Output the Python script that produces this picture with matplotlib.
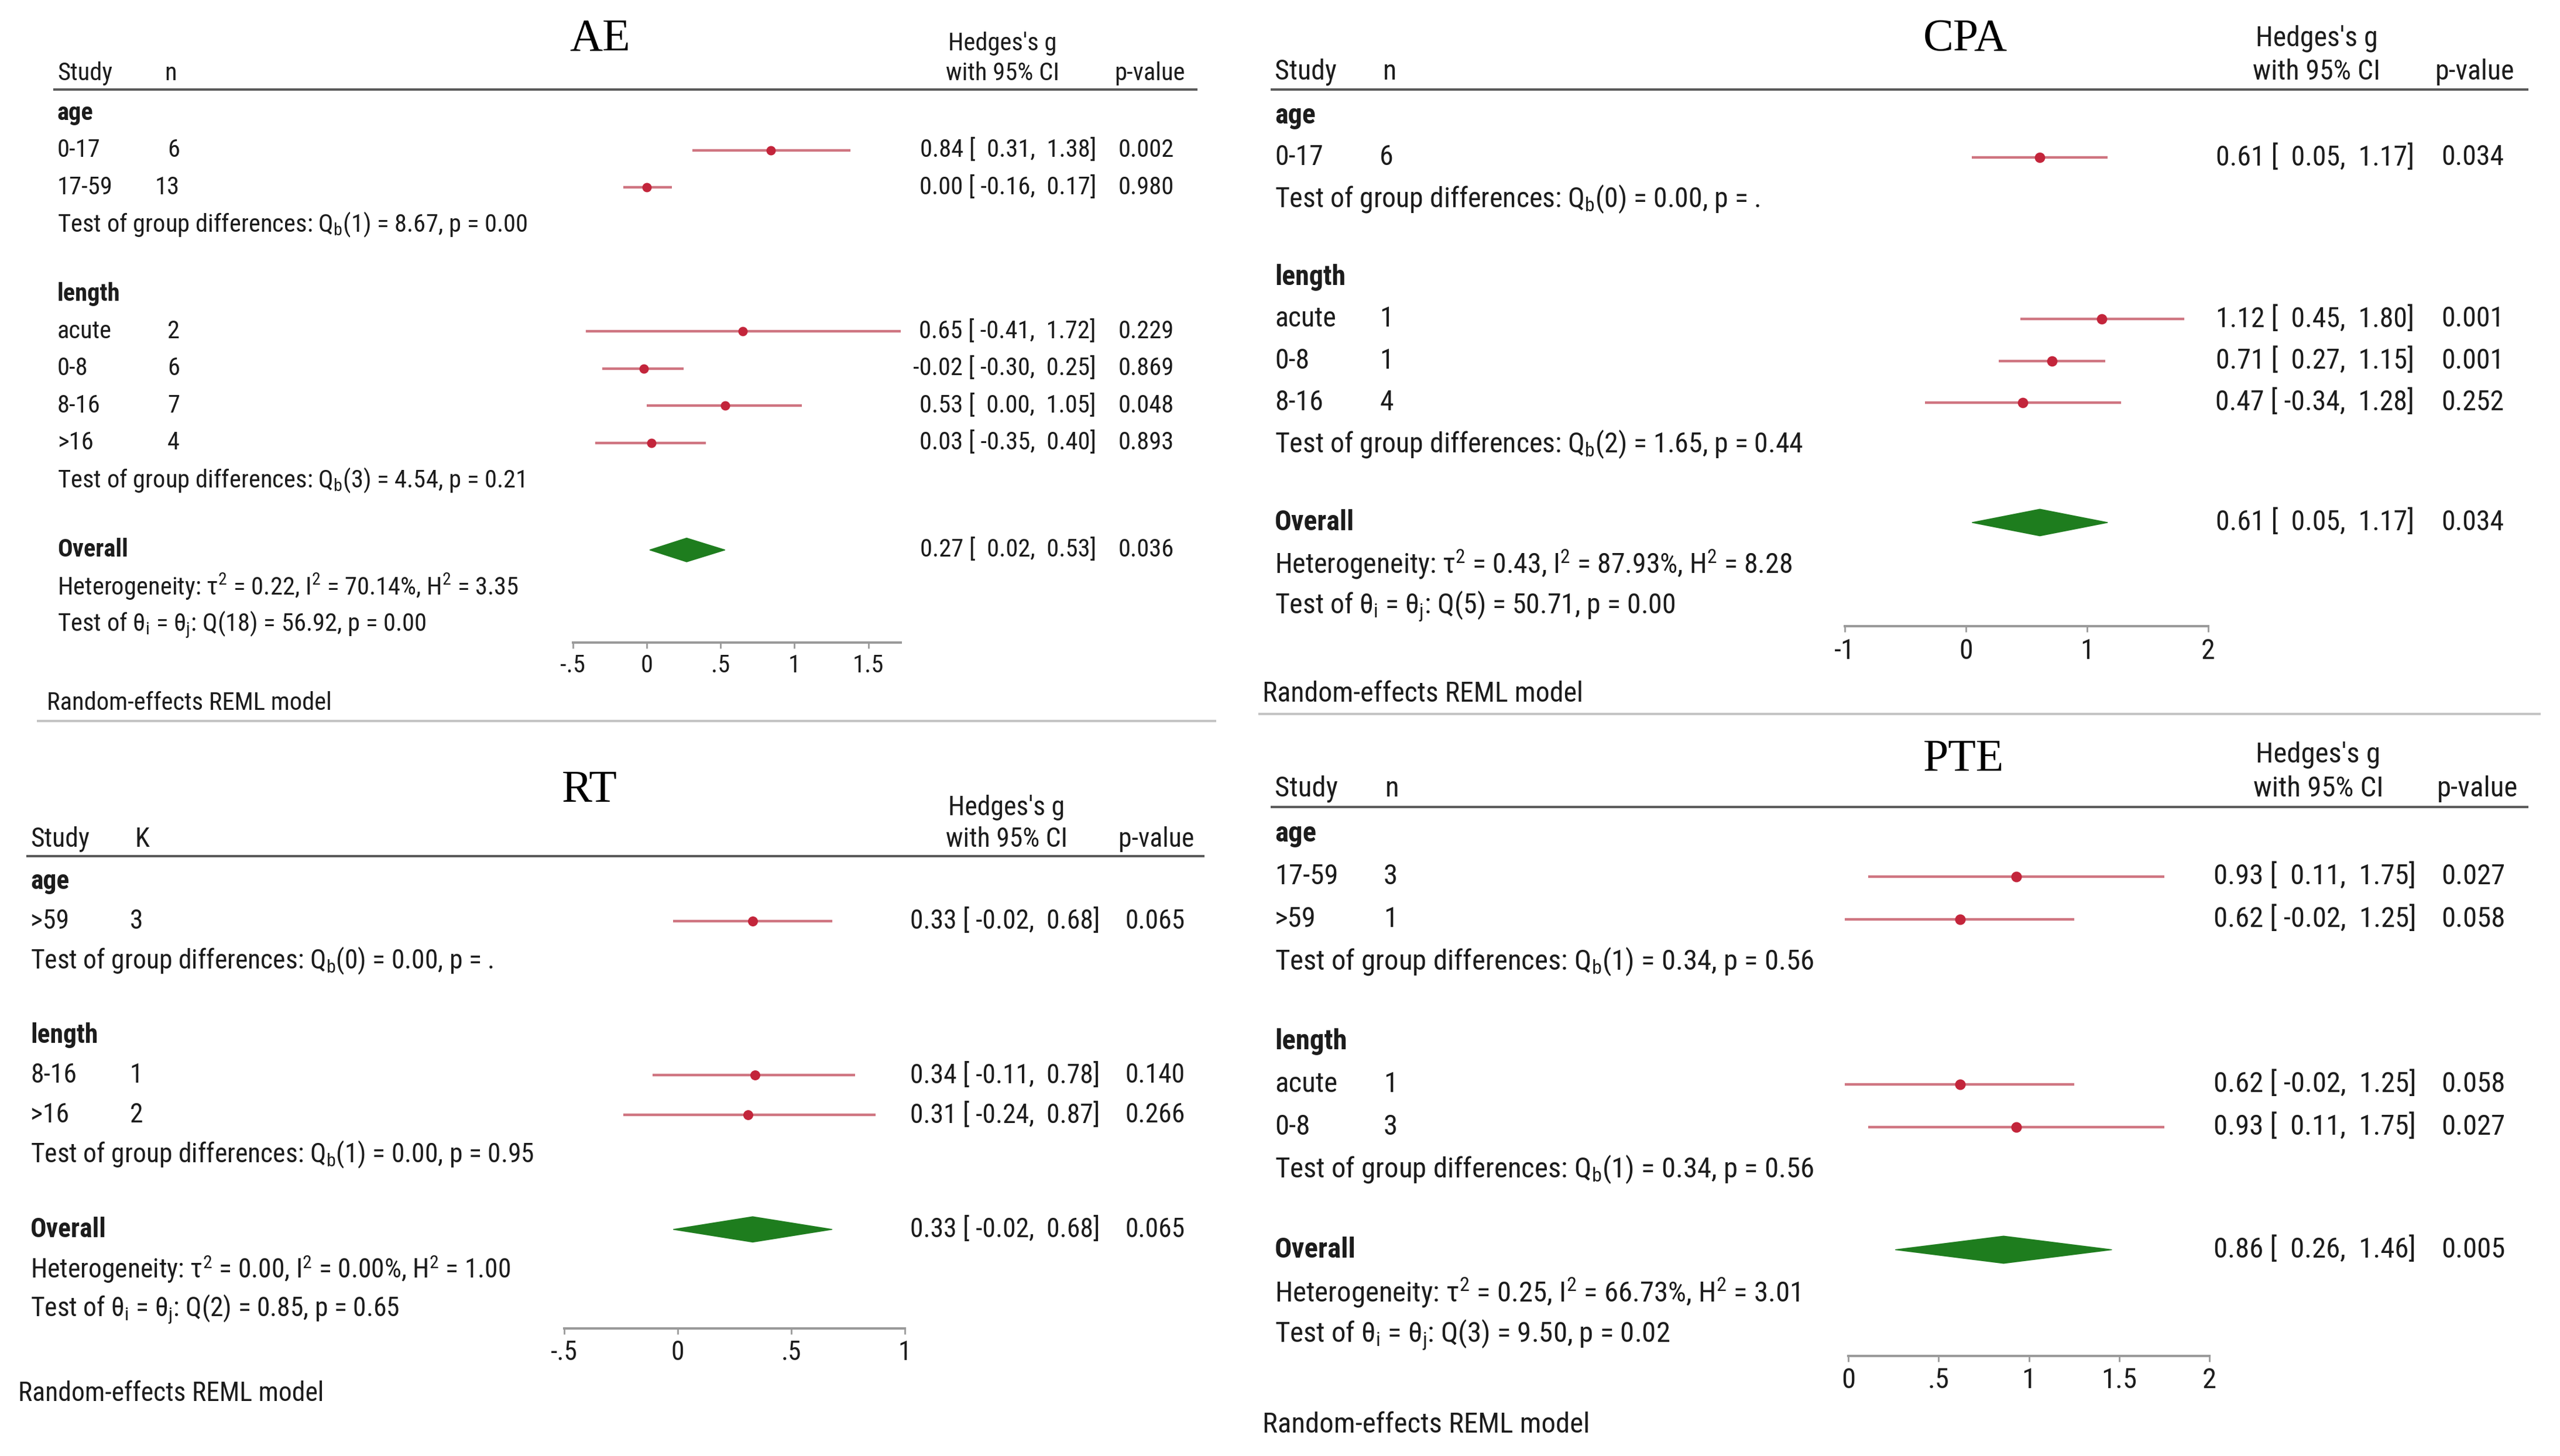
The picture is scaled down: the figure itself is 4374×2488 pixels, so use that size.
import matplotlib
matplotlib.use("Agg")
import matplotlib.pyplot as plt
from matplotlib import font_manager
from matplotlib.patches import Polygon
import numpy as np

W, H = 4374, 2488

# ---- data ----
AE_labels = ["0-17", "17-59", "acute", "0-8", "8-16", ">16"]
AE_groups = ["age", "age", "length", "length", "length", "length"]
AE_n = [6, 13, 2, 6, 7, 4]
AE_g = [0.84, 0.00, 0.65, -0.02, 0.53, 0.03]
AE_lo = [0.31, -0.16, -0.41, -0.30, 0.00, -0.35]
AE_hi = [1.38, 0.17, 1.72, 0.25, 1.05, 0.40]
AE_p = [0.002, 0.980, 0.229, 0.869, 0.048, 0.893]
AE_qb_df = [1, 3]
AE_qb = [8.67, 4.54]
AE_qb_p = [0.00, 0.21]
AE_overall = [0.27, 0.02, 0.53, 0.036]
AE_het = [0.22, 70.14, 3.35]
AE_qtest = [18, 56.92, 0.00]

CPA_labels = ["0-17", "acute", "0-8", "8-16"]
CPA_groups = ["age", "length", "length", "length"]
CPA_n = [6, 1, 1, 4]
CPA_g = [0.61, 1.12, 0.71, 0.47]
CPA_lo = [0.05, 0.45, 0.27, -0.34]
CPA_hi = [1.17, 1.80, 1.15, 1.28]
CPA_p = [0.034, 0.001, 0.001, 0.252]
CPA_qb_df = [0, 2]
CPA_qb = [0.00, 1.65]
CPA_qb_p = [np.nan, 0.44]
CPA_overall = [0.61, 0.05, 1.17, 0.034]
CPA_het = [0.43, 87.93, 8.28]
CPA_qtest = [5, 50.71, 0.00]

RT_labels = [">59", "8-16", ">16"]
RT_groups = ["age", "length", "length"]
RT_n = [3, 1, 2]
RT_g = [0.33, 0.34, 0.31]
RT_lo = [-0.02, -0.11, -0.24]
RT_hi = [0.68, 0.78, 0.87]
RT_p = [0.065, 0.140, 0.266]
RT_qb_df = [0, 1]
RT_qb = [0.00, 0.00]
RT_qb_p = [np.nan, 0.95]
RT_overall = [0.33, -0.02, 0.68, 0.065]
RT_het = [0.00, 0.00, 1.00]
RT_qtest = [2, 0.85, 0.65]

PTE_labels = ["17-59", ">59", "acute", "0-8"]
PTE_groups = ["age", "age", "length", "length"]
PTE_n = [3, 1, 1, 3]
PTE_g = [0.93, 0.62, 0.62, 0.93]
PTE_lo = [0.11, -0.02, -0.02, 0.11]
PTE_hi = [1.75, 1.25, 1.25, 1.75]
PTE_p = [0.027, 0.058, 0.058, 0.027]
PTE_qb_df = [1, 1]
PTE_qb = [0.34, 0.34]
PTE_qb_p = [0.56, 0.56]
PTE_overall = [0.86, 0.26, 1.46, 0.005]
PTE_het = [0.25, 66.73, 3.01]
PTE_qtest = [3, 9.50, 0.02]

# ---- fonts: a narrow grotesque, like the Stata graph ----
names = {f.name for f in font_manager.fontManager.ttflist}
FAM, SHRINK = "Liberation Sans", 0.91
for cand, k in [("Liberation Sans Narrow", 1.0), ("Roboto Condensed", 1.025),
                ("Archivo Narrow", 1.0)]:
    if cand in names:
        FAM, SHRINK = cand, k
        break
plt.rcParams["font.family"] = [FAM, "DejaVu Sans"]
plt.rcParams["mathtext.fontset"] = "custom"
plt.rcParams["mathtext.rm"] = FAM
plt.rcParams["mathtext.it"] = FAM + ":italic"
plt.rcParams["mathtext.bf"] = FAM + ":bold"

TXT = "#1c1c1c"
CI_COL = "#cf7581"
DOT_COL = "#c3253b"
DIA_COL = "#1e7d1e"
GAP = 1.88


def tick_fmt(v):
    s = f"{v:g}"
    return s.replace("0.", ".") if abs(v) < 1 and v != 0 else s


def forest(cfg, title, labels, groups, n, g, lo, hi, p, qb_df, qb, qb_p,
           overall, het, qtest, nname="n"):
    zero, unit = cfg["zero"], cfg["unit"]
    y0, step = cfg["age_y"], cfg["step"]
    fs = step * 0.472 * SHRINK

    def X(px):
        return (px - zero) / unit

    # row layout
    rows, heads, tests = [], [], []
    r = 0.0
    for grp in dict.fromkeys(groups):
        heads.append((grp, r))
        k = groups.count(grp)
        rows.extend(r + 1 + np.arange(k))
        tests.append(r + k + 1)
        r = r + k + 1 + GAP
    r_over = r
    r_het, r_q = r_over + 1, r_over + 2
    r_axis = r_q + 0.49
    r_top = -2.6

    top_px = y0 + r_top * step
    axis_px = y0 + r_axis * step
    left, right = cfg["box"]
    ax = fig.add_axes([left / W, 1 - axis_px / H, (right - left) / W,
                       (axis_px - top_px) / H])
    ax.set_xlim(X(left), X(right))
    ax.set_ylim(r_axis, r_top)
    for s in ("top", "left", "right"):
        ax.spines[s].set_visible(False)
    ax.spines["bottom"].set_bounds(*cfg["axis"])
    ax.spines["bottom"].set_color("#9a9a9a")
    ax.spines["bottom"].set_linewidth(2.9)
    ax.set_yticks([])
    ax.set_xticks(cfg["ticks"])
    ax.set_xticklabels([tick_fmt(t) for t in cfg["ticks"]])
    ax.tick_params(axis="x", direction="out", length=7, width=2,
                   color="#9a9a9a", labelcolor=TXT, labelsize=fs, pad=7)
    ax.patch.set_alpha(0)

    kw = dict(va="center", color=TXT, fontsize=fs)
    # title and column headers
    ax.text(X(cfg["title"][0]), (cfg["title"][1] - y0) / step, title,
            ha="center", va="center", fontsize=56, family="Liberation Serif",
            color="black")
    ax.text(X(cfg["study"]), -1.06, "Study", ha="left", **kw)
    ax.text(X(cfg["nhead"]), -1.06, nname, ha="left", **kw)
    ax.text(X(cfg["hedges"]), -1.86, "Hedges's g", ha="center", **kw)
    ax.text(X(cfg["hedges"]), -1.06, "with 95% CI", ha="center", **kw)
    ax.text(X(cfg["phead"]), -1.06, "p-value", ha="left", **kw)
    ax.plot([X(cfg["hdr"][0]), X(cfg["hdr"][1])], [-0.63, -0.63],
            color="#5a5a5a", lw=2.9, clip_on=False, solid_capstyle="butt")

    # subgroup headers and tests
    for (grp, rr) in heads:
        ax.text(X(cfg["study"]), rr, grp, ha="left", fontweight="bold", **kw)
    for rr, d, q, pp in zip(tests, qb_df, qb, qb_p):
        ps = "." if np.isnan(pp) else f"{pp:.2f}"
        ax.text(X(cfg["study"]), rr,
                r"Test of group differences: Q$_\mathrm{b}$" + f"({d}) = {q:.2f}, p = {ps}",
                ha="left", **kw)

    # studies
    ax.hlines(rows, lo, hi, color=CI_COL, lw=3.2, zorder=2)
    ax.plot(g, rows, "o", color=DOT_COL, ms=10.5 * step / 63.5, zorder=3)
    for rr, lab, nn, gg, l, h, pp in zip(rows, labels, n, g, lo, hi, p):
        ax.text(X(cfg["study"]), rr, lab, ha="left", **kw)
        ax.text(X(cfg["ncol"]), rr, str(nn), ha="right", **kw)
        ax.text(X(cfg["es_end"]), rr, f"{gg:.2f} [{l:6.2f}, {h:5.2f}]",
                ha="right", **kw)
        ax.text(X(cfg["pcol"]), rr, f"{pp:.3f}", ha="left", **kw)

    # overall
    oe, ol, oh, op = overall
    hh = 0.32
    ax.add_patch(Polygon([(ol, r_over), (oe, r_over - hh), (oh, r_over),
                          (oe, r_over + hh)], closed=True, color=DIA_COL,
                         zorder=3))
    ax.text(X(cfg["study"]), r_over, "Overall", ha="left", fontweight="bold", **kw)
    ax.text(X(cfg["es_end"]), r_over, f"{oe:.2f} [{ol:6.2f}, {oh:5.2f}]",
            ha="right", **kw)
    ax.text(X(cfg["pcol"]), r_over, f"{op:.3f}", ha="left", **kw)
    ax.text(X(cfg["study"]), r_het,
            r"Heterogeneity: τ$^2$" + f" = {het[0]:.2f}, I" + r"$^2$"
            + f" = {het[1]:.2f}%, H" + r"$^2$" + f" = {het[2]:.2f}",
            ha="left", **kw)
    ax.text(X(cfg["study"]), r_q,
            r"Test of θ$_\mathrm{i}$ = θ$_\mathrm{j}$" + f": Q({qtest[0]}) = {qtest[1]:.2f}, p = {qtest[2]:.2f}",
            ha="left", **kw)
    ax.text(X(cfg["foot"]), r_q + 2.12, "Random-effects REML model",
            ha="left", **kw)
    if cfg.get("bottom"):
        b = cfg["bottom"]
        ax.plot([X(b[0]), X(b[1])], [r_q + 2.6, r_q + 2.6], color="#c4c4c4",
                lw=2.9, clip_on=False, solid_capstyle="butt")
    return ax


fig = plt.figure(figsize=(W / 100, H / 100), dpi=100)

cfg_ae = dict(zero=1105, unit=252.5, age_y=193, step=63.5, box=(63, 2078),
              axis=(-0.5, 1.72), ticks=[-0.5, 0, 0.5, 1, 1.5], title=(1025, 67),
              study=98, nhead=281, ncol=307, hedges=1713, es_end=1873,
              pcol=1911, phead=1904, hdr=(91, 2046), foot=80, bottom=(63, 2078))
cfg_cpa = dict(zero=3359, unit=207, age_y=198, step=71.2, box=(2150, 4341),
               axis=(-1, 2), ticks=[-1, 0, 1, 2], title=(3358, 67),
               study=2178, nhead=2363, ncol=2381, hedges=3958, es_end=4125,
               pcol=4171, phead=4161, hdr=(2171, 4320), foot=2157,
               bottom=(2150, 4341))
cfg_rt = dict(zero=1158, unit=388, age_y=1506, step=67.9, box=(0, 2150),
              axis=(-0.5, 1), ticks=[-0.5, 0, 0.5, 1], title=(1007, 1351),
              study=52, nhead=230, ncol=244, hedges=1720, es_end=1879,
              pcol=1922, phead=1911, hdr=(45, 2058), foot=31)
cfg_pte = dict(zero=3158, unit=308.5, age_y=1425, step=72.8, box=(2150, 4374),
               axis=(0, 2), ticks=[0, 0.5, 1, 1.5, 2], title=(3355, 1298),
               study=2178, nhead=2367, ncol=2388, hedges=3961, es_end=4128,
               pcol=4171, phead=4164, hdr=(2171, 4320), foot=2157)

forest(cfg_ae, "AE", AE_labels, AE_groups, AE_n, AE_g, AE_lo, AE_hi, AE_p,
       AE_qb_df, AE_qb, AE_qb_p, AE_overall, AE_het, AE_qtest)
forest(cfg_cpa, "CPA", CPA_labels, CPA_groups, CPA_n, CPA_g, CPA_lo, CPA_hi,
       CPA_p, CPA_qb_df, CPA_qb, CPA_qb_p, CPA_overall, CPA_het, CPA_qtest)
forest(cfg_rt, "RT", RT_labels, RT_groups, RT_n, RT_g, RT_lo, RT_hi, RT_p,
       RT_qb_df, RT_qb, RT_qb_p, RT_overall, RT_het, RT_qtest, nname="K")
forest(cfg_pte, "PTE", PTE_labels, PTE_groups, PTE_n, PTE_g, PTE_lo, PTE_hi,
       PTE_p, PTE_qb_df, PTE_qb, PTE_qb_p, PTE_overall, PTE_het, PTE_qtest)

fig.savefig("out.png", dpi=100, facecolor="white")
